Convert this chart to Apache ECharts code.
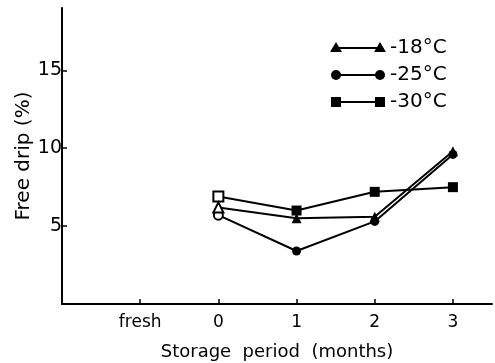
<!DOCTYPE html>
<html><head><meta charset="utf-8">
<script src="https://cdn.jsdelivr.net/npm/echarts@6/dist/echarts.min.js"></script>
<style>html,body{margin:0;padding:0;background:#fff}#c{width:495px;height:363px}</style>
</head><body><div id="c"></div>
<script>
const categories = ["fresh", "0", "1", "2", "3"];
const seriesNames = ["-18°C", "-25°C", "-30°C"];
const valuesM18 = [null, 6.2, 5.5, 5.6, 9.8];
const valuesM25 = [null, 5.7, 3.4, 5.3, 9.6];
const valuesM30 = [null, 6.9, 6.0, 7.2, 7.5];
const yTicks = [5, 10, 15];

const symbols = ["triangle", "circle", "rect"];
const allValues = [valuesM18, valuesM25, valuesM30];
const font = "DejaVu Sans";

const chart = echarts.init(document.getElementById('c'), null, {renderer: 'canvas'});
const series = allValues.map((vals, si) => ({
  name: seriesNames[si],
  type: 'line',
  symbol: symbols[si],
  symbolSize: si === 1 ? 9 : 10,
  lineStyle: {color: '#000', width: 2},
  itemStyle: {color: '#000'},
  z: 3 - si,
  data: vals.map((v, i) => v === null ? null : {
    value: [i - 1, v],
    itemStyle: i === 1 ? {color: '#fff', borderColor: '#000', borderWidth: 2} : {color: '#000'}
  }).filter(d => d !== null)
}));

// legend drawn as graphics
const legendGraphics = [];
seriesNames.forEach((n, i) => {
  const y = 48 + i * 27;
  legendGraphics.push({type: 'line', shape: {x1: 336, y1: y, x2: 380, y2: y}, style: {stroke: '#000', lineWidth: 2}});
  [336, 380].forEach(x => {
    if (symbols[i] === 'triangle') legendGraphics.push({type: 'polygon', shape: {points: [[x, y - 6], [x - 6, y + 4], [x + 6, y + 4]]}, style: {fill: '#000'}});
    else if (symbols[i] === 'circle') legendGraphics.push({type: 'circle', shape: {cx: x, cy: y, r: 5}, style: {fill: '#000'}});
    else legendGraphics.push({type: 'rect', shape: {x: x - 5, y: y - 5, width: 10, height: 10}, style: {fill: '#000'}});
  });
  legendGraphics.push({type: 'text', x: 390, y: y, style: {text: n, fill: '#000', font: '20px ' + font, textVerticalAlign: 'middle'}});
});

chart.setOption({
  animation: false,
  backgroundColor: '#fff',
  grid: {left: 62, right: 3, top: 8, bottom: 59, outerBoundsMode: 'none', containLabel: false},
  graphic: legendGraphics,
  xAxis: {
    type: 'value', min: -2, max: 3.5, interval: 1,
    name: 'Storage  period  (months)', nameLocation: 'middle', nameGap: 39, nameMoveOverlap: false,
    nameTextStyle: {fontFamily: font, fontSize: 18, color: '#000'},
    axisLine: {onZero: false, lineStyle: {color: '#000', width: 2}},
    axisTick: {inside: true, length: 5, lineStyle: {color: '#000', width: 1.5}, customValues: [-1, 0, 1, 2, 3]},
    axisLabel: {
      customValues: [-1, 0, 1, 2, 3], margin: 10,
      color: '#000', fontFamily: font, fontSize: 17,
      formatter: v => categories[Math.round(v) + 1] || ''
    },
    splitLine: {show: false}
  },
  yAxis: {
    type: 'value', min: 0, max: 19, interval: 5,
    name: 'Free drip (%)', nameLocation: 'middle', nameGap: 28, nameRotate: 90, nameMoveOverlap: false,
    nameTextStyle: {fontFamily: font, fontSize: 20, color: '#000'},
    axisLine: {onZero: false, lineStyle: {color: '#000', width: 2}},
    axisTick: {inside: true, length: 5, lineStyle: {color: '#000', width: 1.5}, customValues: yTicks},
    axisLabel: {customValues: yTicks, color: '#000', fontFamily: font, fontSize: 19, margin: 0},
    splitLine: {show: false}
  },
  series: series
});
</script></body></html>
